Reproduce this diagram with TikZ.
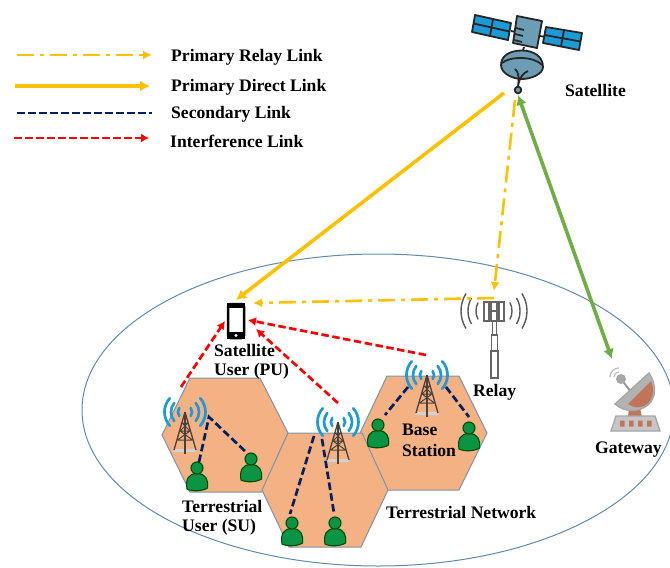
\documentclass[tikz,border=0pt]{standalone}
\usepackage{fontspec}
\setmainfont{Liberation Serif}
\usetikzlibrary{arrows.meta}
\definecolor{yel}{HTML}{FFC000}
\definecolor{nav}{HTML}{002060}
\definecolor{grn}{HTML}{70AD47}
\definecolor{hexf}{HTML}{F4B183}
\definecolor{hexl}{HTML}{7F93A8}
\definecolor{ell}{HTML}{5F8AAE}
\definecolor{wave}{HTML}{1E9BD7}
\definecolor{pers}{HTML}{0B9444}
\definecolor{sat}{HTML}{6C9DB4}
\definecolor{panel}{HTML}{1C9AD6}
\definecolor{brn}{HTML}{4B403A}
\definecolor{dishr}{HTML}{C0745A}
\tikzset{
  lab/.style={font=\bfseries\fontsize{17.6}{21}\selectfont,text=black,inner sep=0pt,align=left},
  relaylink/.style={yel,line width=2.6pt,dash pattern=on 17pt off 6pt on 4pt off 6pt,-{Latex[length=9pt,width=9pt]}},
  directlink/.style={yel,line width=3.6pt,-{Latex[length=10pt,width=11pt]}},
  seclink/.style={nav,line width=2.7pt,dash pattern=on 7.5pt off 3.5pt},
  intlink/.style={red,line width=2.7pt,dash pattern=on 7.5pt off 3.5pt,-{Latex[length=8pt,width=9pt]}},
  feedlink/.style={grn,line width=3.6pt,{Latex[length=10pt,width=11pt]}-{Latex[length=10pt,width=11pt]}},
  hexcell/.style={fill=hexf,draw=hexl,line width=1pt},
  towerpic/.pic={
    \fill[gray!35] (-10,37) -- (10,37) -- (12,40) -- (-12,40) -- cycle;
    \draw[brn,line width=1.3pt] (0,0) -- (-11,38) (0,0) -- (11,38);
    \draw[brn,line width=1.7pt] (0,0) -- (0,42);
    \draw[brn,line width=1pt] (-3,11) -- (3,11) (-5,19) -- (5,19) (-7.5,28) -- (7.5,28)
      (-3,11) -- (5,19) (3,11) -- (-5,19) (-5,19) -- (7.5,28) (5,19) -- (-7.5,28);
    \draw[wave,line width=2.7pt,line cap=round]
      (0,0) ++(-35:7) arc (-35:35:7) (0,0) ++(145:7) arc (145:215:7)
      (0,0) ++(-40:14) arc (-40:40:14) (0,0) ++(140:14) arc (140:220:14)
      (0,0) ++(-42:20.5) arc (-42:42:20.5) (0,0) ++(138:20.5) arc (138:222:20.5);
  },
  personpic/.pic={
    \draw[fill=pers,draw=black!70!green,line width=1.1pt]
      (-10,13) .. controls (-11.5,4) and (-9,-2.5) .. (0,-2.5) .. controls (9,-2.5) and (11.5,4) .. (10.5,12)
      .. controls (5,15.5) and (-5,15.5) .. (-10,13) -- cycle;
    \draw[fill=pers,draw=black!70!green,line width=1.1pt] (0,-8) circle (6);
  },
}
\begin{document}
\begin{tikzpicture}[x=1pt,y=-1pt]
\useasboundingbox (0,0) rectangle (670,568);
\begin{scope}
\clip (0,0) rectangle (670,568);
\draw[ell,line width=1pt] (378,410) ellipse (296 and 156);
\end{scope}

% hexagons
\path[hexcell] (162,435) -- (190,378) -- (260,378) -- (288,433) -- (262,492) -- (190,492) -- cycle;
\path[hexcell] (360,433) -- (387,376) -- (459,376) -- (487,433) -- (459,490) -- (387,490) -- cycle;
\path[hexcell] (288,433) -- (362,433) -- (388,490) -- (361,547) -- (289,547) -- (262,490) -- cycle;

% named link ends
\coordinate (satdirect) at (504,93);
\coordinate (satrelay) at (515,100);
\coordinate (satgreen) at (518,95);
\coordinate (gatetop) at (612,359);
\coordinate (relaytop) at (494,291);
\coordinate (relaycorner) at (494,298);
\coordinate (phonetop) at (236,300);
\coordinate (phoneright) at (253,303);
\coordinate (phoneleft) at (225,321);
\coordinate (phoneb) at (248,320);
\coordinate (phonec) at (256,329);
\coordinate (towerA) at (181,387);
\coordinate (towerB) at (338,403);
\coordinate (towerC) at (426,355);
\coordinate (tAhub) at (209,417);
\coordinate (uA) at (199,462);
\coordinate (uB) at (247,453);
\coordinate (tBl) at (314,436);
\coordinate (tBr) at (322,439);
\coordinate (uC) at (290,514);
\coordinate (uD) at (334,513);
\coordinate (tCl) at (408,387);
\coordinate (tCr) at (446,387);
\coordinate (uE) at (385,415);
\coordinate (uF) at (469,417);

% towers
\pic at (185,412) {towerpic};
\pic at (338,422) {towerpic};
\pic at (427,375) {towerpic};

% persons
\pic at (197,476) {personpic};
\pic at (251,467) {personpic};
\pic at (292,531) {personpic};
\pic at (335,531) {personpic};
\pic at (378,433) {personpic};
\pic at (469,436) {personpic};

% secondary links
\draw[seclink] (uA) -- (tAhub) -- (uB);
\draw[seclink] (tBl) -- (uC);
\draw[seclink] (tBr) -- (uD);
\draw[seclink] (tCl) -- (uE);
\draw[seclink] (tCr) -- (uF);

% phone
\draw[fill=white,draw=black,line width=2.5pt,rounded corners=2.5pt] (228,304) rectangle (244,338);
\fill[black] (227,303) rectangle (245,307.5);
\fill[black] (227,332) rectangle (245,339);
\fill[white] (236,335.5) circle (1.6);

% relay
\begin{scope}[draw=black!60,line width=1.2pt]
  \draw[fill=white] (491,351) rectangle (498,378);
  \draw[fill=white] (491.5,335) rectangle (497.5,351);
  \draw[fill=white] (492.5,321) rectangle (496.5,335);
  \draw[fill=white] (484,302) rectangle (489,321);
  \draw[fill=white] (491,302) rectangle (497,321);
  \draw[fill=white] (499,302) rectangle (504,321);
  \draw (489,311) -- (499,311);
  \draw[black!65,line width=1.4pt]
    (494,311) ++(-28:18) arc (-28:28:18) (494,311) ++(152:18) arc (152:208:18)
    (494,311) ++(-30:26) arc (-30:30:26) (494,311) ++(150:26) arc (150:210:26)
    (494,311) ++(-32:33) arc (-32:32:33) (494,311) ++(148:33) arc (148:212:33);
\end{scope}

% gateway
\begin{scope}
  \fill[dishr] (629,408) -- (640,408) -- (642,417) -- (628,417) -- cycle;
  \draw[gray!80,line width=2pt,line cap=round] (631,392) -- (621,379);
  \fill[gray!70] (621,379) circle (5);
  \draw[gray!50,line width=1.3pt] (610,377) .. controls (610,372) and (614,368) .. (619,368);
  \draw[gray!50,line width=1.3pt] (614,377) .. controls (614,374) and (616,372) .. (619,372);
  \draw[gray!70,fill=gray!60,line width=1.4pt] (615,404) -- (649,373) .. controls (657,385) and (656,398) .. (648,405) .. controls (638,413) and (624,412) .. (615,404) -- cycle;
  \fill[dishr] (628,404) -- (651,381) .. controls (655,390) and (653,399) .. (647,404) .. controls (640,409) and (634,408) .. (628,404) -- cycle;
  \draw[gray!70,fill=gray!45,line width=1.4pt] (616,416) -- (655,416) -- (660,431) -- (611,431) -- cycle;
  \fill[dishr] (620,420.5) rectangle (624.5,426.5) (629,420.5) rectangle (633.5,426.5) (638,420.5) rectangle (642.5,426.5) (647,420.5) rectangle (651.5,426.5);
\end{scope}

% satellite
\begin{scope}[line width=1.8pt,draw=black!85,line join=round]
  \draw (511,31) -- (516,32) (540,36) -- (546,37) (524,47) -- (522,54);
  \draw[fill=panel] (475,15) -- (511,23) -- (508,40) -- (472,32) -- cycle;
  \draw (493,19) -- (490,36) (473.5,23.5) -- (509.5,31.5);
  \draw[fill=panel] (546,27) -- (582,33) -- (579,50) -- (543,43) -- cycle;
  \draw (564,30) -- (561,46.5) (544.5,35) -- (580.5,41.5);
  \draw[fill=sat] (517,16) -- (542,21) -- (537,48) -- (513,43) -- cycle;
  \draw (516,28) -- (524,30) (515,34) -- (523,36) (514,40) -- (522,42);
  \draw[fill=sat] (501,65) .. controls (501,55) and (511,50.5) .. (522,50.5)
     .. controls (533,50.5) and (543,56) .. (543,67)
     .. controls (543,74) and (531,79) .. (522,79)
     .. controls (512,79) and (501,73) .. (501,65) -- cycle;
  \draw (502,63) .. controls (510,56) and (534,56) .. (542,65);
  \draw (515,69) .. controls (519,72) and (519,78) .. (518,87) (528,71) .. controls (523,73) and (519,78) .. (518,87);
  \draw[fill=sat] (518,90) circle (3.3);
\end{scope}

% main links
\draw[directlink] (satdirect) -- (phonetop);
\draw[relaylink] (satrelay) -- (relaytop);
\draw[relaylink] (relaycorner) -- (phoneright);
\draw[feedlink] (satgreen) -- (gatetop);
\draw[intlink] (towerA) -- (phoneleft);
\draw[intlink] (towerB) -- (phonec);
\draw[intlink] (towerC) -- (phoneb);

% legend
\coordinate (la1) at (17,55); \coordinate (la2) at (152,55);
\coordinate (lb1) at (15,86); \coordinate (lb2) at (150,86);
\coordinate (lc1) at (17,113); \coordinate (lc2) at (152,113);
\coordinate (ld1) at (14,138); \coordinate (ld2) at (149,138);
\draw[relaylink] (la1) -- (la2);
\draw[directlink] (lb1) -- (lb2);
\draw[seclink] (lc1) -- (lc2);
\draw[intlink] (ld1) -- (ld2);
\node[lab,anchor=west] (t1) at (171,57) {Primary Relay Link};
\node[lab,anchor=west] (t2) at (171,87) {Primary Direct Link};
\node[lab,anchor=west] (t3) at (171,114) {Secondary Link};
\node[lab,anchor=west] (t4) at (170,141) {Interference Link};

% labels
\node[lab,anchor=west] (tsat) at (565,90) {Satellite};
\node[lab,anchor=west] (tsu1) at (214,350) {Satellite};
\node[lab,anchor=west] (tsu2) at (214,371) {User (PU)};
\node[lab,anchor=west] (ttu1) at (182,506) {Terrestrial};
\node[lab,anchor=west] (ttu2) at (182,527) {User (SU)};
\node[lab,anchor=west] (trel) at (473,392) {Relay};
\node[lab,anchor=west] (tbs1) at (402,430) {Base};
\node[lab,anchor=west] (tbs2) at (402,450) {Station};
\node[lab,anchor=west] (tgw) at (595,450) {Gateway};
\node[lab,anchor=west] (ttn) at (386,512) {Terrestrial Network};
\end{tikzpicture}
\end{document}
